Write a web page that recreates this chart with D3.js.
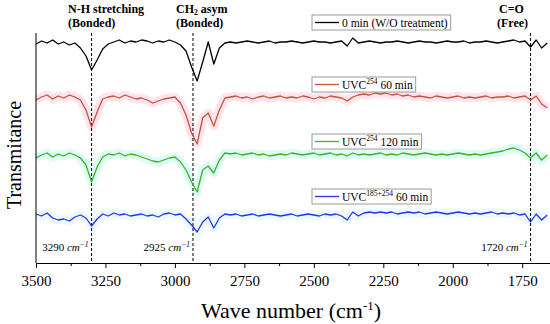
<!DOCTYPE html>
<html>
<head>
<meta charset="utf-8">
<script src="https://cdn.jsdelivr.net/npm/d3@7"></script>
<style>
  body { margin: 0; background: #fff; }
  svg { display: block; font-family: "Liberation Serif", "Times New Roman", serif; }
</style>
</head>
<body>
<svg id="chart" width="550" height="324"></svg>
<script>
// Wave number grid (cm-1), one sample every 20 cm-1
var waveNumbers = d3.range(3500, 1650, -20);

// Transmittance (offset, arbitrary units)
var controlValues = [
  219, 222, 220, 223, 219, 221, 218, 220,
  215, 207, 193, 203, 214, 219,
  221, 223, 220, 222, 221, 223, 222, 220, 222, 221, 223, 221,
  218, 212, 196, 182, 201, 221, 199, 215, 220,
  221, 220, 221, 222, 221, 220, 221, 222, 220, 221, 221, 222, 221, 220, 221, 222, 221, 221, 220, 221, 222,
  217, 225, 220,
  221, 222, 221, 220, 221, 221, 222, 221, 220, 221, 222, 221, 221, 220, 221, 222, 221, 221, 222, 220, 221, 221, 222, 221, 220, 221, 222, 223, 221, 222,
  216, 223, 215, 220
];
var uvc60Values = [
  163, 166, 168, 164, 167, 165, 168, 166,
  163, 153, 136, 151, 164, 166,
  167, 165, 168, 166, 164, 165, 163, 160, 162, 164, 165, 166,
  160, 148, 130, 119, 145, 150, 137, 153, 165,
  166, 167, 165, 166, 164, 166, 167, 165, 166, 167, 165, 166, 165, 167, 166, 164, 166, 165, 167, 166, 165,
  162, 166, 168,
  169, 168, 170, 169, 170, 168, 169, 167, 168, 166, 167, 166, 165, 167, 166, 165, 166, 167, 165, 166, 165, 166, 167, 165, 166, 166, 167, 165, 166, 167,
  163, 167, 159, 155
];
var uvc120Values = [
  105, 108, 110, 106, 109, 107, 110, 108,
  105, 98, 81, 96, 106, 109,
  108, 110, 107, 109, 108, 106, 104, 102, 101, 103, 105, 106,
  101, 93, 81, 71, 93, 97, 90, 103, 110,
  109, 110, 108, 109, 110, 108, 109, 107, 108, 109, 108, 110, 109, 108, 109, 110, 108, 109, 110, 108, 109,
  107, 110, 108,
  109, 108, 109, 110, 108, 109, 108, 110, 109, 108, 109, 110, 109, 108, 109, 108, 109, 110, 109, 108, 109, 108, 109, 110, 111, 112, 114, 115, 113, 110,
  105, 110, 103, 108
];
var uvc185Values = [
  49, 47, 50, 45, 43, 44, 42, 46,
  48, 45, 37, 44, 49, 47,
  50, 48, 49, 47, 48, 49, 47, 48, 46, 49, 50, 48,
  49, 44, 38, 31, 41, 46, 35, 45, 49,
  48, 49, 47, 48, 49, 47, 48, 49, 48, 47, 48, 49, 47, 48, 49, 48, 47, 49, 48, 49, 47,
  43, 51, 47,
  50, 51, 50, 51, 50, 51, 49, 50, 51, 50, 51, 49, 50, 51, 50, 49, 50, 51, 50, 49, 50, 49, 50, 51, 49, 50, 49, 50, 48, 49,
  41, 49, 43, 48
];

// Legend labels: [text, superscript, text]
var seriesNames = [
  ["0 min (W/O treatment)", "", ""],
  ["UVC", "254", " 60 min"],
  ["UVC", "254", " 120 min"],
  ["UVC", "185+254", " 60 min"]
];
var seriesColors = ["#000000", "#c4523e", "#44b21a", "#2e2ef0"];
var bandColors = [null, "#ffd6e0", "#c8fbf2", "#e0f7ff"];

// Marked bands
var peakPositions = [3300, 2935, 1720];
var peakLabels = ["3290", "2925", "1720"];

var xTicks = [3500, 3250, 3000, 2750, 2500, 2250, 2000, 1750];
var xMinorTicks = [3375, 3125, 2875, 2625, 2375, 2125, 1875];

var svgWidth = 550;
var svgHeight = 324;
var margin = { top: 33, right: 0, bottom: 61, left: 36 };
var chartWidth = svgWidth - margin.left - margin.right;
var chartHeight = svgHeight - margin.top - margin.bottom;

var svg = d3.select("#chart");
var chartGroup = svg.append("g")
  .attr("transform", `translate(${margin.left}, ${margin.top})`);

var xScale = d3.scaleLinear()
  .domain([3500, 1650])
  .range([0, chartWidth]);

var yScale = d3.scaleLinear()
  .domain([0, 230])
  .range([chartHeight, 0]);

var allSeries = [controlValues, uvc60Values, uvc120Values, uvc185Values];

var drawLine = d3.line()
  .x((d, i) => xScale(waveNumbers[i]))
  .y(d => yScale(d));

// shaded bands behind the spectra
allSeries.forEach(function(values, i) {
  if (!bandColors[i]) return;
  chartGroup.append("path")
    .attr("d", drawLine(values))
    .attr("fill", "none")
    .attr("stroke", bandColors[i])
    .attr("stroke-width", 9)
    .attr("stroke-linejoin", "round")
    .attr("opacity", 0.65);
});

// dashed markers
peakPositions.forEach(function(p) {
  chartGroup.append("line")
    .attr("x1", xScale(p)).attr("x2", xScale(p))
    .attr("y1", 0).attr("y2", chartHeight)
    .attr("stroke", "#000")
    .attr("stroke-width", 1)
    .attr("stroke-dasharray", "3,2");
});

allSeries.forEach(function(values, i) {
  chartGroup.append("path")
    .attr("d", drawLine(values))
    .attr("fill", "none")
    .attr("stroke", seriesColors[i])
    .attr("stroke-width", 1.3)
    .attr("stroke-linejoin", "round");
});

// axes
var bottomAxis = d3.axisBottom(xScale)
  .tickValues(xTicks)
  .tickFormat(d3.format("d"))
  .tickSize(5)
  .tickSizeOuter(0)
  .tickPadding(7);

var xAxisGroup = chartGroup.append("g")
  .attr("transform", `translate(0, ${chartHeight})`)
  .call(bottomAxis);
xAxisGroup.selectAll("text")
  .attr("font-family", "Liberation Serif, Times New Roman, serif")
  .attr("font-size", 15)
  .attr("fill", "#000");

var minorAxis = d3.axisBottom(xScale)
  .tickValues(xMinorTicks)
  .tickSize(3)
  .tickFormat("");
var minorGroup = chartGroup.append("g")
  .attr("transform", `translate(0, ${chartHeight})`)
  .call(minorAxis);
minorGroup.select(".domain").remove();

chartGroup.append("line")
  .attr("x1", 0).attr("x2", 0)
  .attr("y1", 0).attr("y2", chartHeight)
  .attr("stroke", "#000");

chartGroup.selectAll(".domain, .tick line").attr("stroke", "#000");

// axis titles
var xTitle = svg.append("text")
  .attr("x", 291)
  .attr("y", 318)
  .attr("text-anchor", "middle")
  .attr("font-size", 22);
xTitle.append("tspan").text("Wave number (cm");
xTitle.append("tspan").attr("dy", -8).attr("font-size", 13).text("-1");
xTitle.append("tspan").attr("dy", 8).text(")");

svg.append("text")
  .attr("transform", "translate(21, 155) rotate(-90)")
  .attr("text-anchor", "middle")
  .attr("font-size", 20)
  .text("Transmitance");

// legend boxes
var legendTop = [15, 77, 134, 189];
seriesNames.forEach(function(name, i) {
  var lg = svg.append("g").attr("transform", `translate(312, ${legendTop[i]})`);
  var box = lg.append("rect")
    .attr("x", 0).attr("y", 0)
    .attr("height", 15)
    .attr("fill", "#fff")
    .attr("stroke", "#9a9a9a")
    .attr("stroke-width", 1);
  lg.append("line")
    .attr("x1", 3).attr("x2", 27)
    .attr("y1", 7.5).attr("y2", 7.5)
    .attr("stroke", seriesColors[i])
    .attr("stroke-width", 1.3);
  var t = lg.append("text")
    .attr("x", 30)
    .attr("y", 11.5)
    .attr("font-size", 11.5);
  t.append("tspan").text(name[0]);
  if (name[1]) {
    t.append("tspan").attr("dy", -4.5).attr("font-size", 7.5).text(name[1]);
    t.append("tspan").attr("dy", 4.5).text(name[2]);
  }
  box.attr("width", 30 + t.node().getComputedTextLength() + 3);
});

// band annotations at the top
function topNote(x, y, main, sub, rest) {
  var t = svg.append("text")
    .attr("x", x)
    .attr("y", y)
    .attr("font-size", 12)
    .attr("font-weight", "bold");
  t.append("tspan").text(main);
  if (sub) {
    t.append("tspan").attr("font-size", 7.5).attr("dy", 2).text(sub);
    t.append("tspan").attr("dy", -2).text(rest);
  }
}
topNote(68, 13, "N-H stretching");
topNote(68, 27, "(Bonded)");
topNote(176, 13, "CH", "2", " asym");
topNote(176, 27, "(Bonded)");
topNote(499, 13, "C=O");
topNote(497, 27, "(Free)");

// wave number labels near the bottom
peakPositions.forEach(function(p, i) {
  var t = chartGroup.append("text")
    .attr("x", xScale(p) - 3)
    .attr("y", chartHeight - 12)
    .attr("text-anchor", "end")
    .attr("font-size", 11);
  t.append("tspan").text(peakLabels[i] + " ");
  t.append("tspan").attr("font-style", "italic").text("cm");
  t.append("tspan").attr("font-style", "italic").attr("font-size", 7.5).attr("dy", -4).text("\u22121");
});
</script>
</body>
</html>
